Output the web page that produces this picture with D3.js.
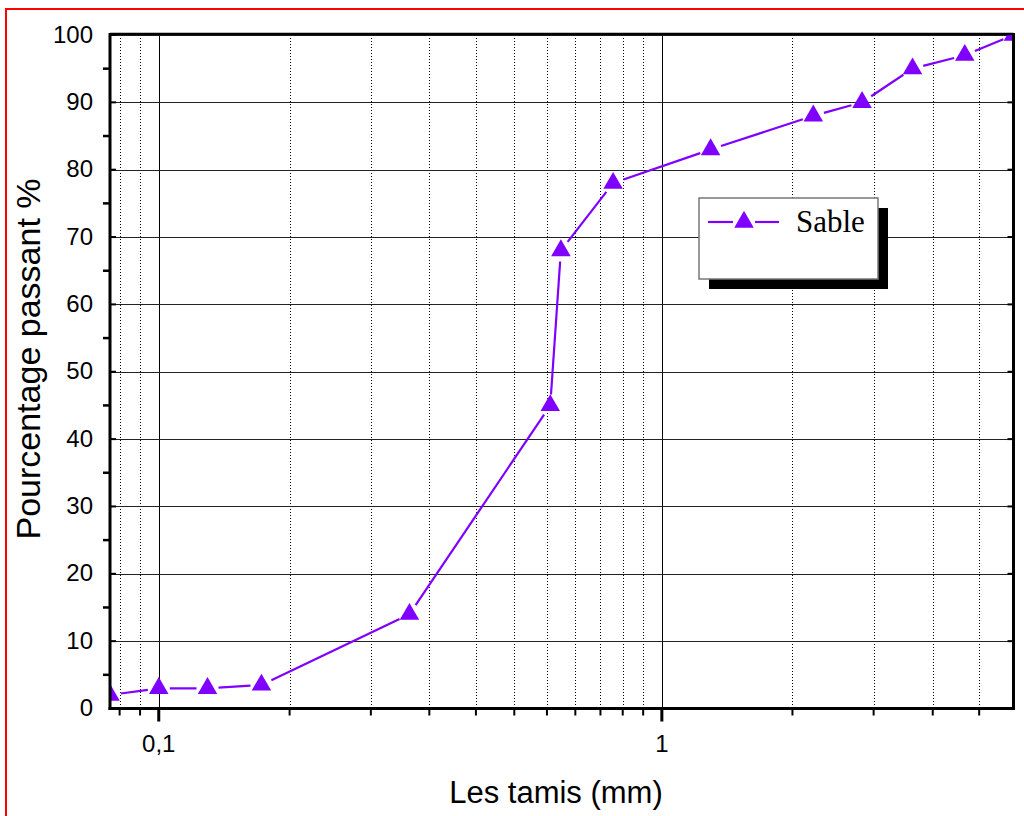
<!DOCTYPE html>
<html>
<head>
<meta charset="utf-8">
<script src="https://cdn.jsdelivr.net/npm/d3@7"></script>
<style>
  html, body { margin: 0; padding: 0; background: #fff; }
  svg { display: block; }
</style>
</head>
<body>
<svg id="chart" width="1024" height="816"></svg>
<script>
// ---- data ----
const sizes   = [0.08, 0.1, 0.125, 0.16, 0.315, 0.6, 0.63, 0.8, 1.25, 2, 2.5, 3.15, 4, 5];
const passing = [2, 3, 3, 3.5, 14, 45, 68, 78, 83, 88, 90, 95, 97, 100];
const seriesName = "Sable";

const xMajorTicks = [0.1, 1];
const xMajorLabels = ["0,1", "1"];
const xMinorTicks = [0.0836, 0.0918, 0.182, 0.264, 0.345, 0.427, 0.509, 0.591, 0.673, 0.755, 0.836, 0.918, 1.818, 2.636, 3.455, 4.273];
const yMajorTicks = [0, 10, 20, 30, 40, 50, 60, 70, 80, 90, 100];
const yMinorTicks = [5, 15, 25, 35, 45, 55, 65, 75, 85, 95];

const xLabel = "Les tamis (mm)";
const yLabel = "Pourcentage passant %";

// ---- layout ----
const L = 110, R = 1013.5, T = 35, B = 708.5;
const svg = d3.select("#chart");

const x = d3.scaleLog().domain([0.08, 5]).range([L, R]);
const y = d3.scaleLinear().domain([0, 100]).range([B, T]);

const purple = "#8000ff";
const sans = "Liberation Sans, Arial, sans-serif";

// red outer border
svg.append("rect").attr("x", 6).attr("y", 9).attr("width", 1100).attr("height", 1000)
  .attr("fill", "none").attr("stroke", "#ff0000").attr("stroke-width", 2);

// minor vertical dotted grid
svg.append("g").selectAll("line").data(xMinorTicks).join("line")
  .attr("x1", d => Math.round(x(d)) + 0.5).attr("x2", d => Math.round(x(d)) + 0.5)
  .attr("y1", T).attr("y2", B)
  .attr("stroke", "#000").attr("stroke-width", 1).attr("stroke-dasharray", "1,2");

// major vertical grid
svg.append("g").selectAll("line").data(xMajorTicks).join("line")
  .attr("x1", d => Math.round(x(d)) + 0.5).attr("x2", d => Math.round(x(d)) + 0.5)
  .attr("y1", T).attr("y2", B)
  .attr("stroke", "#000").attr("stroke-width", 1);

// horizontal grid
svg.append("g").selectAll("line").data(yMajorTicks).join("line")
  .attr("x1", L).attr("x2", R)
  .attr("y1", d => Math.round(y(d)) + 0.5).attr("y2", d => Math.round(y(d)) + 0.5)
  .attr("stroke", "#222").attr("stroke-width", 1);

// y inward major ticks (left & right)
svg.append("g").selectAll("line").data(yMajorTicks).join("line")
  .attr("x1", L).attr("x2", L + 6)
  .attr("y1", d => y(d)).attr("y2", d => y(d))
  .attr("stroke", "#000").attr("stroke-width", 2);
svg.append("g").selectAll("line").data(yMajorTicks).join("line")
  .attr("x1", R - 6).attr("x2", R)
  .attr("y1", d => y(d)).attr("y2", d => y(d))
  .attr("stroke", "#000").attr("stroke-width", 2);

// y outward minor ticks (left)
svg.append("g").selectAll("line").data(yMinorTicks).join("line")
  .attr("x1", L - 7).attr("x2", L)
  .attr("y1", d => y(d)).attr("y2", d => y(d))
  .attr("stroke", "#000").attr("stroke-width", 2.5);

// x outward ticks
svg.append("g").selectAll("line").data(xMinorTicks).join("line")
  .attr("x1", d => x(d)).attr("x2", d => x(d))
  .attr("y1", B).attr("y2", B + 7)
  .attr("stroke", "#000").attr("stroke-width", 2);
svg.append("g").selectAll("line").data(xMajorTicks).join("line")
  .attr("x1", d => x(d)).attr("x2", d => x(d))
  .attr("y1", B).attr("y2", B + 13)
  .attr("stroke", "#000").attr("stroke-width", 3);

// tick labels
svg.append("g").selectAll("text").data(yMajorTicks).join("text")
  .attr("x", 93).attr("y", d => y(d) - 1).attr("dy", "0.36em")
  .attr("text-anchor", "end")
  .attr("font-family", sans).attr("font-size", 24)
  .text(d => d);
svg.append("g").selectAll("text").data(xMajorTicks).join("text")
  .attr("x", d => x(d)).attr("y", 752)
  .attr("text-anchor", "middle")
  .attr("font-family", sans).attr("font-size", 24)
  .text((d, i) => xMajorLabels[i]);

// axis titles
svg.append("text").attr("x", 556).attr("y", 803)
  .attr("text-anchor", "middle")
  .attr("font-family", sans).attr("font-size", 31)
  .text(xLabel);
svg.append("text")
  .attr("transform", "translate(40,359) rotate(-90)")
  .attr("text-anchor", "middle")
  .attr("font-family", sans).attr("font-size", 34)
  .text(yLabel);

// data clip
svg.append("defs").append("clipPath").attr("id", "plotclip")
  .append("rect").attr("x", L).attr("y", T).attr("width", R - L).attr("height", B - T);

const pts = sizes.map((s, i) => [x(s), y(passing[i])]);
const gap = 11;
const segs = [];
for (let i = 0; i < pts.length - 1; i++) {
  const [x1, y1] = pts[i], [x2, y2] = pts[i + 1];
  const dx = x2 - x1, dy = y2 - y1, len = Math.hypot(dx, dy);
  if (len > 2 * gap) {
    segs.push([x1 + dx / len * gap, y1 + dy / len * gap, x2 - dx / len * gap, y2 - dy / len * gap]);
  }
}
const dataG = svg.append("g").attr("clip-path", "url(#plotclip)");
dataG.selectAll("line").data(segs).join("line")
  .attr("x1", d => d[0]).attr("y1", d => d[1]).attr("x2", d => d[2]).attr("y2", d => d[3])
  .attr("stroke", purple).attr("stroke-width", 2.2);

const tri = d3.symbol().type(d3.symbolTriangle).size(165);
dataG.selectAll("path").data(pts).join("path")
  .attr("transform", d => `translate(${d[0]},${d[1]})`)
  .attr("d", tri).attr("fill", purple);

// frame
svg.append("line").attr("x1", L).attr("x2", R).attr("y1", T - 1).attr("y2", T - 1)
  .attr("stroke", "#000").attr("stroke-width", 2.5);
svg.append("line").attr("x1", R).attr("x2", R).attr("y1", T - 2).attr("y2", B + 1.5)
  .attr("stroke", "#000").attr("stroke-width", 3);
svg.append("line").attr("x1", L).attr("x2", L).attr("y1", T - 2).attr("y2", B + 1.5)
  .attr("stroke", "#000").attr("stroke-width", 3);
svg.append("line").attr("x1", L - 1.5).attr("x2", R + 1.5).attr("y1", B).attr("y2", B)
  .attr("stroke", "#000").attr("stroke-width", 3);

// legend
const lg = svg.append("g");
lg.append("rect").attr("x", 709).attr("y", 208).attr("width", 179).attr("height", 81).attr("fill", "#000");
lg.append("rect").attr("x", 699).attr("y", 198).attr("width", 179).attr("height", 81)
  .attr("fill", "#fff").attr("stroke", "#777").attr("stroke-width", 1.5);
lg.append("line").attr("x1", 708).attr("x2", 733).attr("y1", 222).attr("y2", 222)
  .attr("stroke", purple).attr("stroke-width", 2.2);
lg.append("line").attr("x1", 755).attr("x2", 779).attr("y1", 222).attr("y2", 222)
  .attr("stroke", purple).attr("stroke-width", 2.2);
lg.append("path").attr("transform", "translate(744,222)").attr("d", tri).attr("fill", purple);
lg.append("text").attr("x", 796).attr("y", 232)
  .attr("font-family", "Liberation Serif, Times New Roman, serif").attr("font-size", 31)
  .text(seriesName);
</script>
</body>
</html>
